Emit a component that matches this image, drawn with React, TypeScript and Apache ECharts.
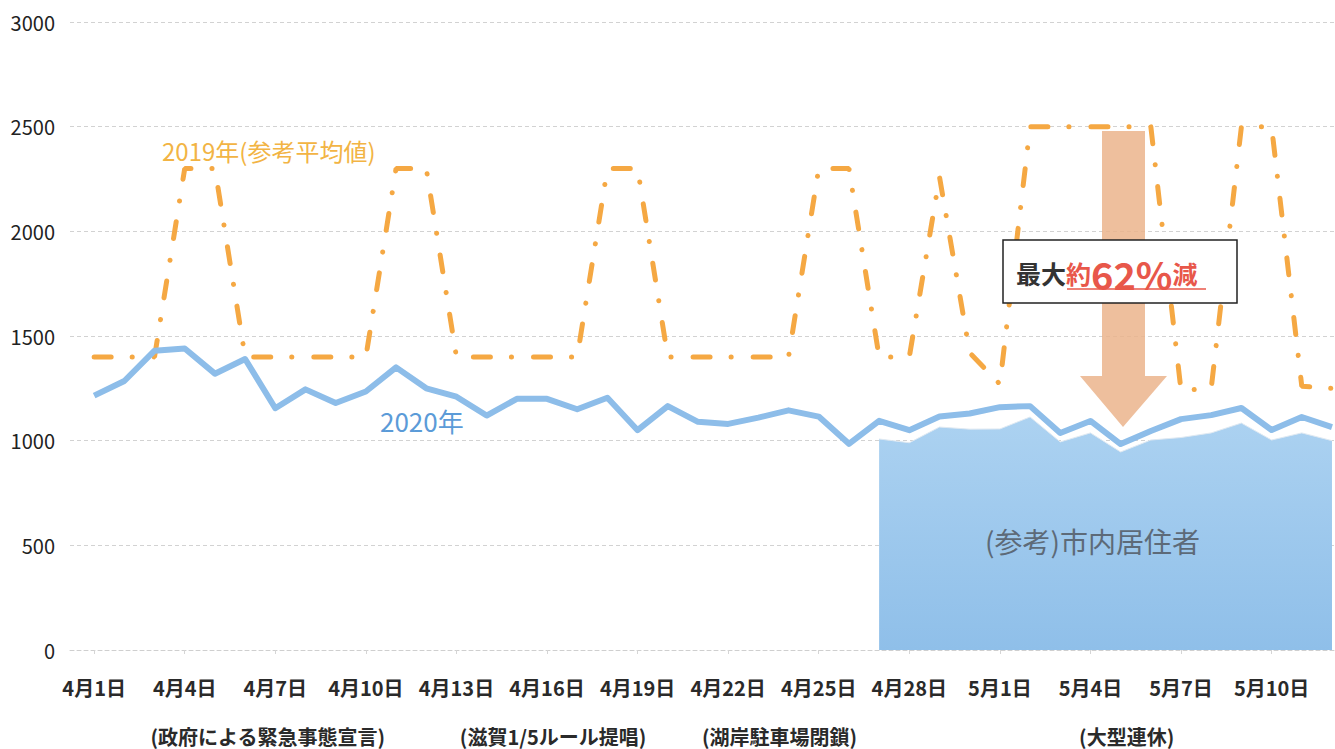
import { useEffect, useRef } from 'react';
import * as echarts from 'echarts';

const categories = [
  '4月1日','4月2日','4月3日','4月4日','4月5日','4月6日','4月7日','4月8日','4月9日','4月10日',
  '4月11日','4月12日','4月13日','4月14日','4月15日','4月16日','4月17日','4月18日','4月19日','4月20日',
  '4月21日','4月22日','4月23日','4月24日','4月25日','4月26日','4月27日','4月28日','4月29日','4月30日',
  '5月1日','5月2日','5月3日','5月4日','5月5日','5月6日','5月7日','5月8日','5月9日','5月10日','5月11日','5月12日',
];

const visitors2020 = [
  1215, 1285, 1430, 1440, 1320, 1390, 1155, 1245, 1180, 1235,
  1350, 1250, 1210, 1120, 1200, 1200, 1150, 1205, 1050, 1165,
  1090, 1080, 1110, 1145, 1115, 985, 1095, 1050, 1115, 1130,
  1160, 1165, 1037, 1094, 984, 1046, 1103, 1122, 1156, 1051, 1113, 1065,
];

const average2019 = [
  1400, 1400, 1400, 2300, 2300, 1400, 1400, 1400, 1400, 1400,
  2300, 2300, 1400, 1400, 1400, 1400, 1400, 2300, 2300, 1400,
  1400, 1400, 1400, 1400, 2300, 2300, 1400, 1400, 2260, 1420,
  1270, 2500, 2500, 2500, 2500, 2500, 1240, 1250, 2500, 2500, 1260, 1250,
];

const residents = [
  null, null, null, null, null, null, null, null, null, null,
  null, null, null, null, null, null, null, null, null, null,
  null, null, null, null, null, null, 1008, 990, 1065, 1055,
  1056, 1113, 994, 1037, 946, 1003, 1015, 1037, 1084, 1003, 1037, 1000,
];

const tickIndices = [0, 3, 6, 9, 12, 15, 18, 21, 24, 27, 30, 33, 36, 39];
const eventLabels = ['(政府による緊急事態宣言)', '(滋賀1/5ルール提唱)', '(湖岸駐車場閉鎖)', '(大型連休)'];
const eventPositions = [5.75, 15.2, 22.7, 34.2];

const FONT = '"Noto Sans CJK JP", "Noto Sans", sans-serif';

export default function App() {
  const ref = useRef<HTMLDivElement>(null);

  useEffect(() => {
    if (!ref.current) return;
    const chart = echarts.init(ref.current, null, { renderer: 'svg' });
    const pairs = (arr: (number | null)[]) => arr.map((v, i) => [i, v]);

    chart.setOption({
      animation: false,
      backgroundColor: '#ffffff',
      textStyle: { fontFamily: FONT },
      grid: { left: 70, right: 0, top: 22, bottom: 99, containLabel: false },
      xAxis: [
        {
          type: 'value',
          min: -0.8,
          max: 41.1,
          axisLine: { show: true, lineStyle: { color: '#cfcfcf', type: [4, 3] } },
          axisTick: { show: true, customValues: tickIndices, length: 4, lineStyle: { color: '#d5d5d5' } },
          splitLine: { show: false },
          axisLabel: {
            customValues: tickIndices,
            formatter: (v: number) => categories[Math.round(v)] ?? '',
            fontSize: 20,
            fontWeight: 'bold',
            color: '#2a2a2a',
            margin: 27,
            fontFamily: FONT,
          },
        },
        {
          type: 'value',
          min: -0.8,
          max: 41.1,
          position: 'bottom',
          axisLine: { show: false },
          axisTick: { show: false },
          splitLine: { show: false },
          axisLabel: {
            customValues: eventPositions,
            formatter: (v: number) => {
              let best = 0;
              eventPositions.forEach((p, i) => {
                if (Math.abs(p - v) < Math.abs(eventPositions[best] - v)) best = i;
              });
              return eventLabels[best];
            },
            fontSize: 20,
            fontWeight: 'bold',
            color: '#2a2a2a',
            margin: 76,
            fontFamily: FONT,
          },
        },
      ],
      yAxis: {
        type: 'value',
        min: 0,
        max: 3000,
        interval: 500,
        axisLine: { show: false },
        axisTick: { show: false },
        splitLine: { show: true, lineStyle: { color: '#d2d2d2', type: [4, 3] } },
        axisLabel: {
          fontSize: 20,
          color: '#222',
          margin: 15,
          fontFamily: FONT,
          formatter: (v: number) => String(v),
        },
      },
      series: [
        {
          name: '(参考)市内居住者',
          type: 'line',
          xAxisIndex: 0,
          data: pairs(residents),
          symbol: 'none',
          connectNulls: false,
          lineStyle: { width: 1, color: '#dfe9f2' },
          areaStyle: {
            opacity: 1,
            color: new echarts.graphic.LinearGradient(0, 0, 0, 1, [
              { offset: 0, color: '#acd2f1' },
              { offset: 1, color: '#8fbfe9' },
            ]),
          },
          z: 1,
        },
        {
          name: '2019年(参考平均値)',
          type: 'line',
          xAxisIndex: 0,
          data: pairs(average2019),
          symbol: 'none',
          lineStyle: { width: 5, color: '#f5a843', type: [17, 21, 0.1, 22], cap: 'round' },
          z: 3,
        },
        {
          name: '2020年',
          type: 'line',
          xAxisIndex: 0,
          data: pairs(visitors2020),
          symbol: 'none',
          lineStyle: { width: 6, color: '#8dbde9', join: 'round' },
          z: 4,
        },
      ],
      graphic: [
        {
          type: 'polygon',
          z: 10,
          shape: {
            points: [
              [1102, 131], [1145, 131], [1145, 376], [1167, 376],
              [1123, 427], [1080, 376], [1102, 376],
            ],
          },
          style: { fill: '#ebb48c', opacity: 0.85 },
        },
        {
          type: 'rect',
          z: 11,
          shape: { x: 1003, y: 240, width: 234, height: 63 },
          style: { fill: '#ffffff', stroke: '#222', lineWidth: 1.5 },
        },
        {
          type: 'text',
          z: 12,
          style: {
            x: 1016,
            y: 273,
            text: '{a|最大}{b|約}{c|62%}{b|減}',
            textVerticalAlign: 'middle',
            rich: {
              a: { fontSize: 25, fontWeight: 'bold', fill: '#333', fontFamily: FONT },
              b: { fontSize: 25, fontWeight: 'bold', fill: '#e8574a', fontFamily: FONT },
              c: { fontSize: 38, fontWeight: 'bold', fill: '#e8574a', fontFamily: FONT },
            },
          },
        },
        {
          type: 'line',
          z: 12,
          shape: { x1: 1067, y1: 289, x2: 1206, y2: 289 },
          style: { stroke: '#e8574a', lineWidth: 1.5 },
        },
        {
          type: 'text',
          z: 12,
          style: {
            x: 162, y: 150, text: '2019年(参考平均値)',
            fontSize: 24, fontFamily: FONT, fill: '#f2b444', textVerticalAlign: 'middle',
          },
        },
        {
          type: 'text',
          z: 12,
          style: {
            x: 380, y: 420, text: '2020年',
            fontSize: 26, fontFamily: FONT, fill: '#5b9bd8', textVerticalAlign: 'middle',
          },
        },
        {
          type: 'text',
          z: 12,
          style: {
            x: 985, y: 541, text: '(参考)市内居住者',
            fontSize: 28, fontFamily: FONT, fill: '#5d6a78', textVerticalAlign: 'middle',
          },
        },
      ],
    });

    return () => chart.dispose();
  }, []);

  return (
    <div
      ref={ref}
      style={{ position: 'fixed', left: 0, top: 0, width: 1335, height: 749 }}
    />
  );
}
